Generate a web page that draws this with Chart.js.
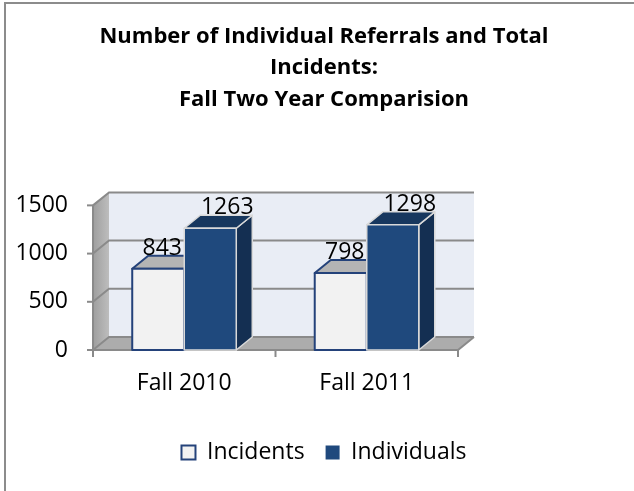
<!DOCTYPE html>
<html>
<head>
<meta charset="utf-8">
<script src="https://cdn.jsdelivr.net/npm/chart.js@4"></script>
<style>
  html, body { margin: 0; padding: 0; background: #fff; }
</style>
</head>
<body>
<canvas id="chart" width="634" height="491"></canvas>
<script>
const categories = ['Fall 2010', 'Fall 2011'];
const incidents = [843, 798];
const individuals = [1263, 1298];
const seriesNames = ['Incidents', 'Individuals'];
const yTicks = [0, 500, 1000, 1500];
const titleLines = ['Number of Individual Referrals and Total', 'Incidents:', 'Fall Two Year Comparision'];

// depth of the fake 3d box
const DX = 16, DY = -13;
const FONT = "'Open Sans'";

const barStyles = [
  { front: '#f2f2f2', top: '#b4b4b4', side: '#a0a0a0', stroke: '#24427a', lw: 2, labelDx: 4 },
  { front: '#1f497d', top: '#17375e', side: '#142f52', stroke: '#d9d9d9', lw: 1.5, labelDx: 17 }
];

function poly(ctx, pts, fill, stroke, lw) {
  ctx.beginPath();
  ctx.moveTo(pts[0][0], pts[0][1]);
  for (let i = 1; i < pts.length; i++) ctx.lineTo(pts[i][0], pts[i][1]);
  ctx.closePath();
  ctx.fillStyle = fill;
  ctx.fill();
  if (stroke) {
    ctx.strokeStyle = stroke;
    ctx.lineWidth = lw;
    ctx.lineJoin = 'round';
    ctx.stroke();
  }
}

const box3d = {
  id: 'box3d',
  beforeDraw(chart) {
    const ctx = chart.ctx;
    ctx.save();
    ctx.fillStyle = '#fff';
    ctx.fillRect(0, 0, chart.width, chart.height);
    ctx.strokeStyle = '#8c8c8c';
    ctx.lineWidth = 2;
    ctx.beginPath();
    ctx.moveTo(5, chart.height);
    ctx.lineTo(5, 3);
    ctx.lineTo(chart.width, 3);
    ctx.stroke();
    ctx.restore();
  },
  beforeDatasetsDraw(chart) {
    const { ctx, chartArea: a, scales: { y } } = chart;
    ctx.save();
    // back wall
    poly(ctx, [[a.left + DX, a.top + DY], [a.right + DX, a.top + DY], [a.right + DX, a.bottom + DY], [a.left + DX, a.bottom + DY]], '#e9edf5');
    // left wall
    const g = ctx.createLinearGradient(a.left, 0, a.left + DX, 0);
    g.addColorStop(0, '#9e9e9e');
    g.addColorStop(1, '#bdbdbd');
    poly(ctx, [[a.left, a.bottom], [a.left, a.top], [a.left + DX, a.top + DY], [a.left + DX, a.bottom + DY]], g);
    // floor
    poly(ctx, [[a.left, a.bottom], [a.right, a.bottom], [a.right + DX, a.bottom + DY], [a.left + DX, a.bottom + DY]], '#acacac');
    // grid lines
    ctx.strokeStyle = '#8a8a8a';
    ctx.lineWidth = 2;
    yTicks.forEach(v => {
      const py = y.getPixelForValue(v);
      ctx.beginPath();
      ctx.moveTo(a.left, py);
      ctx.lineTo(a.left + DX, py + DY);
      ctx.lineTo(a.right + DX, py + DY);
      ctx.stroke();
      // tick mark on the front axis
      ctx.beginPath();
      ctx.moveTo(a.left - 6, py);
      ctx.lineTo(a.left, py);
      ctx.stroke();
    });
    // front axes
    ctx.beginPath();
    ctx.moveTo(a.left, a.top);
    ctx.lineTo(a.left, a.bottom);
    ctx.lineTo(a.right, a.bottom);
    ctx.lineTo(a.right + DX, a.bottom + DY);
    ctx.stroke();
    const n = categories.length;
    for (let i = 0; i <= n; i++) {
      const px = a.left + (a.right - a.left) * i / n;
      ctx.beginPath();
      ctx.moveTo(px, a.bottom);
      ctx.lineTo(px, a.bottom + 7);
      ctx.stroke();
    }
    ctx.restore();
  },
  afterDatasetsDraw(chart) {
    const ctx = chart.ctx;
    const metas = [chart.getDatasetMeta(0), chart.getDatasetMeta(1)];
    ctx.save();
    categories.forEach((c, i) => {
      metas.forEach((meta, d) => {
        const el = meta.data[i];
        const s = barStyles[d];
        const l = el.x - el.width / 2, r = el.x + el.width / 2, t = el.y, b = el.base;
        poly(ctx, [[r, b], [r, t], [r + DX, t + DY], [r + DX, b + DY]], s.side, s.stroke, s.lw);
        poly(ctx, [[l, t], [r, t], [r + DX, t + DY], [l + DX, t + DY]], s.top, s.stroke, s.lw);
        poly(ctx, [[l, b], [l, t], [r, t], [r, b]], s.front, s.stroke, s.lw);
      });
    });
    // value labels
    ctx.fillStyle = '#000';
    ctx.font = '23px ' + FONT;
    ctx.textAlign = 'center';
    ctx.textBaseline = 'alphabetic';
    metas.forEach((meta, d) => {
      const vals = chart.data.datasets[d].data;
      meta.data.forEach((el, i) => {
        ctx.fillText(String(vals[i]), el.x + barStyles[d].labelDx, el.y - 14);
      });
    });
    ctx.restore();
  }
};

Chart.defaults.font.family = FONT;
Chart.defaults.color = '#000';

new Chart(document.getElementById('chart'), {
  type: 'bar',
  data: {
    labels: categories,
    datasets: [
      {
        label: seriesNames[0],
        data: incidents,
        backgroundColor: barStyles[0].front,
        borderColor: barStyles[0].stroke,
        borderWidth: 2
      },
      {
        label: seriesNames[1],
        data: individuals,
        backgroundColor: barStyles[1].front,
        borderColor: barStyles[1].front,
        borderWidth: 0
      }
    ]
  },
  options: {
    responsive: false,
    devicePixelRatio: 1,
    animation: false,
    categoryPercentage: 0.57,
    barPercentage: 1,
    layout: { padding: { left: 14, right: 0, top: 0, bottom: 17 } },
    plugins: {
      title: {
        display: true,
        text: titleLines,
        font: { size: 22, weight: 'bold', lineHeight: 1.43 },
        color: '#000',
        padding: { top: 21, bottom: 90 }
      },
      legend: {
        position: 'bottom',
        labels: {
          font: { size: 23 },
          color: '#000',
          boxWidth: 14,
          boxHeight: 14,
          padding: 21
        }
      },
      tooltip: { enabled: false }
    },
    scales: {
      x: {
        grid: { display: false },
        border: { display: false },
        ticks: { font: { size: 23 }, color: '#000', padding: 12 },
        afterFit(s) { s.height = 70; }
      },
      y: {
        min: 0,
        max: 1500,
        afterBuildTicks(s) { s.ticks = yTicks.map(v => ({ value: v })); },
        grid: { display: false },
        border: { display: false },
        ticks: { font: { size: 23 }, color: '#000', padding: 17, callback: v => String(v) },
        afterFit(s) { s.width = 79; }
      },
      rightPad: {
        type: 'linear',
        position: 'right',
        grid: { display: false },
        border: { display: false },
        ticks: { display: false },
        afterFit(s) { s.width = 176; }
      }
    }
  },
  plugins: [box3d]
});
</script>
</body>
</html>
